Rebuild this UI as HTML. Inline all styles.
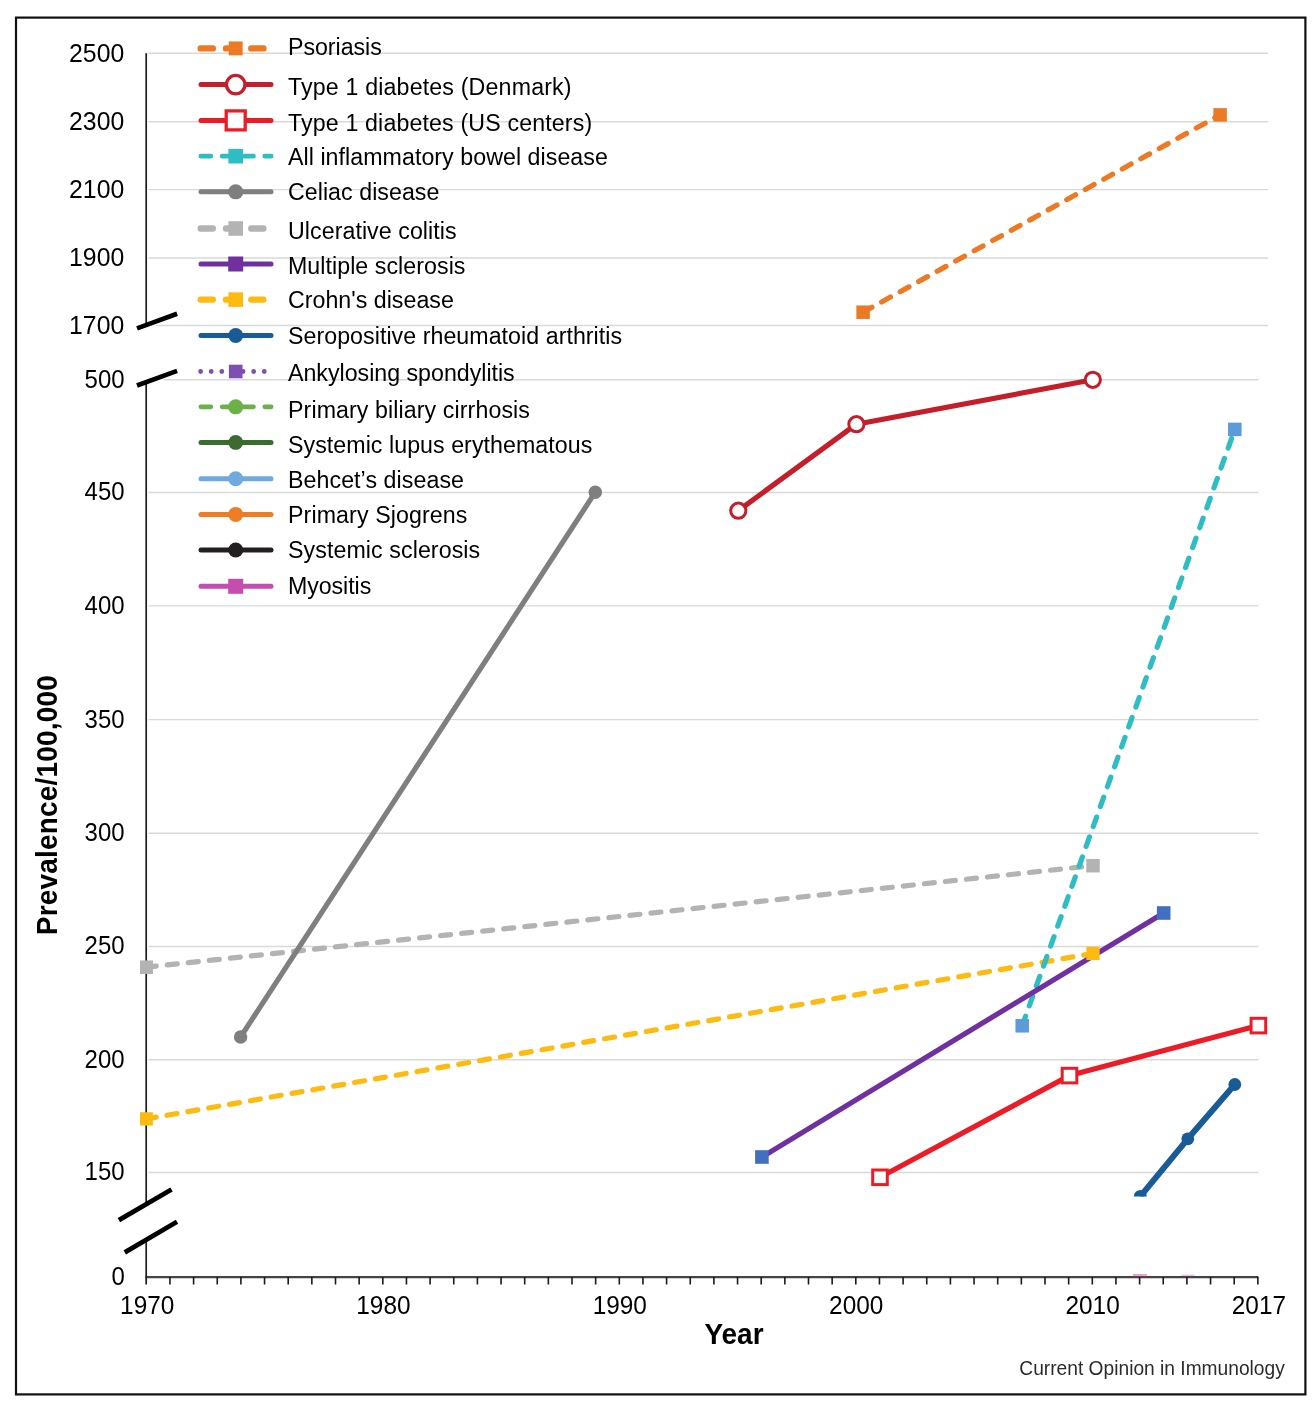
<!DOCTYPE html>
<html><head><meta charset="utf-8"><title>Prevalence of autoimmune diseases</title>
<style>html,body{margin:0;padding:0;background:#fff;}svg{display:block;will-change:transform;}</style>
</head><body>
<svg width="1316" height="1410" viewBox="0 0 1316 1410">
<rect width="1316" height="1410" fill="#fff"/>
<rect x="16" y="17.6" width="1289.4" height="1376.8" fill="none" stroke="#111" stroke-width="2.2"/>
<path d="M148.5 53.3H1268.2M148.5 121.75H1268.2M148.5 189.65H1268.2M148.5 257.95H1268.2M156 325.55H1268.2M163.6 379.7H1258.3M148.5 492.5H1258.3M148.5 605.85H1258.3M148.5 719.65H1258.3M148.5 833.3H1258.3M148.5 946.5H1258.3M148.5 1059.7H1258.3M148.5 1172.55H1258.3" stroke="#d9d9d9" stroke-width="1.4" fill="none"/>
<path d="M145.4 1277.1H1258.3" stroke="#444" stroke-width="2.3" fill="none"/>
<path d="M146.2 53.3V324 M146.2 384V1205 M146.2 1239V1284.5" stroke="#1c1c1c" stroke-width="1.7" fill="none"/>
<path d="M169.95 1277.1V1284.5M193.6 1277.1V1284.5M217.25 1277.1V1284.5M240.9 1277.1V1284.5M264.55 1277.1V1284.5M288.2 1277.1V1284.5M311.85 1277.1V1284.5M335.5 1277.1V1284.5M359.15 1277.1V1284.5M382.8 1277.1V1284.5M406.45 1277.1V1284.5M430.1 1277.1V1284.5M453.75 1277.1V1284.5M477.4 1277.1V1284.5M501.05 1277.1V1284.5M524.7 1277.1V1284.5M548.35 1277.1V1284.5M572 1277.1V1284.5M595.65 1277.1V1284.5M619.3 1277.1V1284.5M642.95 1277.1V1284.5M666.6 1277.1V1284.5M690.25 1277.1V1284.5M713.9 1277.1V1284.5M737.55 1277.1V1284.5M761.2 1277.1V1284.5M784.85 1277.1V1284.5M808.5 1277.1V1284.5M832.15 1277.1V1284.5M855.8 1277.1V1284.5M879.45 1277.1V1284.5M903.1 1277.1V1284.5M926.75 1277.1V1284.5M950.4 1277.1V1284.5M974.05 1277.1V1284.5M997.7 1277.1V1284.5M1021.35 1277.1V1284.5M1045 1277.1V1284.5M1068.65 1277.1V1284.5M1092.3 1277.1V1284.5M1115.95 1277.1V1284.5M1139.6 1277.1V1284.5M1163.25 1277.1V1284.5M1186.9 1277.1V1284.5M1210.55 1277.1V1284.5M1234.2 1277.1V1284.5M1257.85 1277.1V1284.5" stroke="#1c1c1c" stroke-width="1.6" fill="none"/>
<g stroke="#000" stroke-width="4.7" fill="none"><path d="M137 328.4L177.1 313.8"/><path d="M137 385.5L177.1 370.9"/><path d="M118.9 1220.1L171.5 1189.5"/><path d="M124.8 1252.4L177 1221.8"/></g>
<g style="font-family:'Liberation Sans',Arial,Helvetica,sans-serif;font-size:24.8px" fill="#000" text-anchor="end"><text transform="translate(124.2 61.6) scale(1 1.041)">2500</text><text transform="translate(124.2 130.05) scale(1 1.041)">2300</text><text transform="translate(124.2 197.95) scale(1 1.041)">2100</text><text transform="translate(124.2 266.25) scale(1 1.041)">1900</text><text transform="translate(124.2 333.85) scale(1 1.041)">1700</text></g>
<g style="font-family:'Liberation Sans',Arial,Helvetica,sans-serif;font-size:24.0px" fill="#000" text-anchor="end"><text transform="translate(124.6 387.6) scale(1 1.041)">500</text><text transform="translate(124.6 500.4) scale(1 1.041)">450</text><text transform="translate(124.6 613.75) scale(1 1.041)">400</text><text transform="translate(124.6 727.55) scale(1 1.041)">350</text><text transform="translate(124.6 841.2) scale(1 1.041)">300</text><text transform="translate(124.6 954.4) scale(1 1.041)">250</text><text transform="translate(124.6 1067.6) scale(1 1.041)">200</text><text transform="translate(124.6 1180.45) scale(1 1.041)">150</text><text transform="translate(124.8 1284.8) scale(1 1.041)">0</text></g>
<g style="font-family:'Liberation Sans',Arial,Helvetica,sans-serif;font-size:24.4px" fill="#000" text-anchor="middle"><text transform="translate(147.2 1314.1) scale(1 1.041)">1970</text><text transform="translate(383.4 1314.1) scale(1 1.041)">1980</text><text transform="translate(619.8 1314.1) scale(1 1.041)">1990</text><text transform="translate(856.2 1314.1) scale(1 1.041)">2000</text><text transform="translate(1092.6 1314.1) scale(1 1.041)">2010</text><text transform="translate(1258.9 1314.1) scale(1 1.041)">2017</text></g>
<g style="font-family:'Liberation Sans',Arial,Helvetica,sans-serif;font-size:28px;font-weight:bold" text-anchor="middle" fill="#000"><text transform="translate(734 1344) scale(1 1.041)">Year</text></g>
<g style="font-family:'Liberation Sans',Arial,Helvetica,sans-serif;font-size:28px;font-weight:bold" text-anchor="middle" fill="#000"><text transform="translate(57.4 805.2) rotate(-90) scale(1 1.041)" textLength="260.1">Prevalence/100,000</text></g>
<g style="font-family:'Liberation Sans',Arial,Helvetica,sans-serif;font-size:19.2px" text-anchor="end" fill="#2b2b2b"><text transform="translate(1284.8 1374.5) scale(1 1.041)">Current Opinion in Immunology</text></g>
<defs><clipPath id="pc"><rect x="140" y="20" width="1140" height="1176.6"/></clipPath><clipPath id="pz"><rect x="140" y="1240" width="1140" height="36.9"/></clipPath></defs>
<g clip-path="url(#pc)"><path d="M863.1 312.2 L1220.1 114.9" stroke="#ec7a24" stroke-width="5.2" fill="none" stroke-dasharray="10.1 11.05" stroke-linecap="round"/><path d="M738.3 510.7 L856.4 424.2 L1092.8 379.8" stroke="#c41e2b" stroke-width="5.2" fill="none" stroke-linejoin="round"/><path d="M880 1177.3 L1069.5 1075.6 L1258.4 1025.6" stroke="#ec1c27" stroke-width="5.2" fill="none" stroke-linejoin="round"/><path d="M146.2 967.2 L1093 865.7" stroke="#b3b3b3" stroke-width="5.2" fill="none" stroke-dasharray="10.1 11.05" stroke-linecap="round"/><path d="M146.2 1118.9 L1093 953.4" stroke="#fdbb12" stroke-width="5.2" fill="none" stroke-dasharray="10.1 11.05" stroke-linecap="round"/><path d="M240.6 1037 L595.3 492.2" stroke="#7f7f7f" stroke-width="5.2" fill="none"/><path d="M1022.2 1025.8 L1234.8 429.4" stroke="#2ebdc2" stroke-width="5.2" fill="none" stroke-dasharray="10.1 11.05" stroke-linecap="round"/><path d="M761.9 1157 L1163.7 913" stroke="#7030a0" stroke-width="5.2" fill="none"/><path d="M1140.3 1196.4 L1187.8 1138.8 L1234.8 1084.5" stroke="#195b97" stroke-width="6" fill="none" stroke-linejoin="round"/><rect x="856.35" y="305.45" width="13.5" height="13.5" fill="#ec7a24"/><rect x="1213.35" y="108.15" width="13.5" height="13.5" fill="#ec7a24"/><circle cx="738.3" cy="510.7" r="7.6" fill="#fff" stroke="#c41e2b" stroke-width="3"/><circle cx="856.4" cy="424.2" r="7.6" fill="#fff" stroke="#c41e2b" stroke-width="3"/><circle cx="1092.8" cy="379.8" r="7.6" fill="#fff" stroke="#c41e2b" stroke-width="3"/><rect x="872.7" y="1170" width="14.6" height="14.6" fill="#fff" stroke="#ec1c27" stroke-width="3"/><rect x="1062.2" y="1068.3" width="14.6" height="14.6" fill="#fff" stroke="#ec1c27" stroke-width="3"/><rect x="1251.1" y="1018.3" width="14.6" height="14.6" fill="#fff" stroke="#ec1c27" stroke-width="3"/><rect x="139.45" y="960.45" width="13.5" height="13.5" fill="#b3b3b3"/><rect x="1086.25" y="858.95" width="13.5" height="13.5" fill="#b3b3b3"/><rect x="139.55" y="1112.25" width="13.3" height="13.3" fill="#fdbb12"/><rect x="1086.35" y="946.75" width="13.3" height="13.3" fill="#fdbb12"/><circle cx="240.6" cy="1037" r="6.7" fill="#7f7f7f"/><circle cx="595.3" cy="492.2" r="6.7" fill="#7f7f7f"/><rect x="1015.45" y="1019.05" width="13.5" height="13.5" fill="#5a9bd8"/><rect x="1228.05" y="422.65" width="13.5" height="13.5" fill="#5a9bd8"/><rect x="755.1" y="1150.2" width="13.6" height="13.6" fill="#4270c0"/><rect x="1156.9" y="906.2" width="13.6" height="13.6" fill="#4270c0"/><circle cx="1140.3" cy="1196.4" r="6.4" fill="#195b97"/><circle cx="1187.8" cy="1138.8" r="6.4" fill="#195b97"/><circle cx="1234.8" cy="1084.5" r="6.4" fill="#195b97"/></g>
<g><rect x="1133" y="1274" width="14" height="2.4" fill="#c54daf" opacity="0.5"/><rect x="1181.5" y="1274.6" width="13" height="1.6" fill="#c54daf" opacity="0.35"/></g>
<g fill="none"><path d="M200.7 48.4H270.3" stroke="#ec7a24" stroke-width="6.4" stroke-linecap="round" stroke-dasharray="12.1 13.2"/><rect x="228.75" y="41.45" width="13.9" height="13.9" fill="#ec7a24"/><path d="M201 84.6H271" stroke="#c41e2b" stroke-width="5" stroke-linecap="round"/><circle cx="235.7" cy="84.6" r="9.25" fill="#fff" stroke="#c41e2b" stroke-width="3.3"/><path d="M201 120.4H271" stroke="#ec1c27" stroke-width="5" stroke-linecap="round"/><rect x="226.2" y="110.9" width="19" height="19" fill="#fff" stroke="#ec1c27" stroke-width="3.3"/><path d="M200.9 156.2H271.1" stroke="#2ebdc2" stroke-width="4.8" stroke-linecap="round" stroke-dasharray="9.9 11.4"/><rect x="228.4" y="148.9" width="14.6" height="14.6" fill="#2ebdc2"/><path d="M201 191.8H271" stroke="#7f7f7f" stroke-width="5" stroke-linecap="round"/><circle cx="235.7" cy="191.8" r="7.55" fill="#7f7f7f"/><path d="M200.7 228.5H270.3" stroke="#b3b3b3" stroke-width="6.4" stroke-linecap="round" stroke-dasharray="12.1 13.2"/><rect x="228.4" y="221.2" width="14.6" height="14.6" fill="#b3b3b3"/><path d="M201 264H271" stroke="#7030a0" stroke-width="5" stroke-linecap="round"/><rect x="228.2" y="256.5" width="15" height="15" fill="#7030a0"/><path d="M200.7 299.6H270.3" stroke="#fdbb12" stroke-width="6.4" stroke-linecap="round" stroke-dasharray="12.1 13.2"/><rect x="228.4" y="292.3" width="14.6" height="14.6" fill="#fdbb12"/><path d="M201 335.5H271" stroke="#195b97" stroke-width="5" stroke-linecap="round"/><circle cx="235.7" cy="335.5" r="7.45" fill="#195b97"/><path d="M200.6 371.5H266" stroke="#7d4fb0" stroke-width="4.8" stroke-linecap="round" stroke-dasharray="0.01 10.6"/><rect x="228.9" y="364.7" width="13.6" height="13.6" fill="#7d4fb0"/><path d="M200.9 406.8H271.1" stroke="#6cb04a" stroke-width="4.8" stroke-linecap="round" stroke-dasharray="9.9 11.4"/><circle cx="235.7" cy="406.8" r="7.55" fill="#6cb04a"/><path d="M201 442.4H271" stroke="#3b6b2f" stroke-width="5" stroke-linecap="round"/><circle cx="235.7" cy="442.4" r="7.45" fill="#3b6b2f"/><path d="M201 478.7H271" stroke="#6eaadf" stroke-width="5" stroke-linecap="round"/><circle cx="235.7" cy="478.7" r="7.5" fill="#6eaadf"/><path d="M201 514.4H271" stroke="#ee7d26" stroke-width="5" stroke-linecap="round"/><circle cx="235.7" cy="514.4" r="7.5" fill="#ee7d26"/><path d="M201 550H271" stroke="#231f20" stroke-width="5" stroke-linecap="round"/><circle cx="235.7" cy="550" r="7.5" fill="#231f20"/><path d="M201 586.3H271" stroke="#c54daf" stroke-width="5" stroke-linecap="round"/><rect x="228.2" y="578.8" width="15" height="15" fill="#c54daf"/></g>
<g style="font-family:'Liberation Sans',Arial,Helvetica,sans-serif;font-size:23.2px" fill="#000"><text transform="translate(288 54.9) scale(1 1.041)" textLength="93.78">Psoriasis</text><text transform="translate(288 95.3) scale(1 1.041)" textLength="283.57">Type 1 diabetes (Denmark)</text><text transform="translate(288 131.15) scale(1 1.041)" textLength="304.2">Type 1 diabetes (US centers)</text><text transform="translate(288 164.7) scale(1 1.041)" textLength="319.83">All inflammatory bowel disease</text><text transform="translate(288 200.45) scale(1 1.041)" textLength="151.41">Celiac disease</text><text transform="translate(288 239) scale(1 1.041)" textLength="168.62">Ulcerative colitis</text><text transform="translate(288 273.6) scale(1 1.041)" textLength="177.45">Multiple sclerosis</text><text transform="translate(288 307.85) scale(1 1.041)" textLength="165.85">Crohn&#39;s disease</text><text transform="translate(288 344.45) scale(1 1.041)" textLength="334.12">Seropositive rheumatoid arthritis</text><text transform="translate(288 381.15) scale(1 1.041)" textLength="226.74">Ankylosing spondylitis</text><text transform="translate(288 417.85) scale(1 1.041)" textLength="241.94">Primary biliary cirrhosis</text><text transform="translate(288 452.95) scale(1 1.041)" textLength="304.26">Systemic lupus erythematous</text><text transform="translate(288 487.9) scale(1 1.041)" textLength="175.99">Behcet’s disease</text><text transform="translate(288 522.5) scale(1 1.041)" textLength="179.43">Primary Sjogrens</text><text transform="translate(288 558.35) scale(1 1.041)" textLength="192.19">Systemic sclerosis</text><text transform="translate(288 594.3) scale(1 1.041)" textLength="83.25">Myositis</text></g>
</svg>
</body></html>
